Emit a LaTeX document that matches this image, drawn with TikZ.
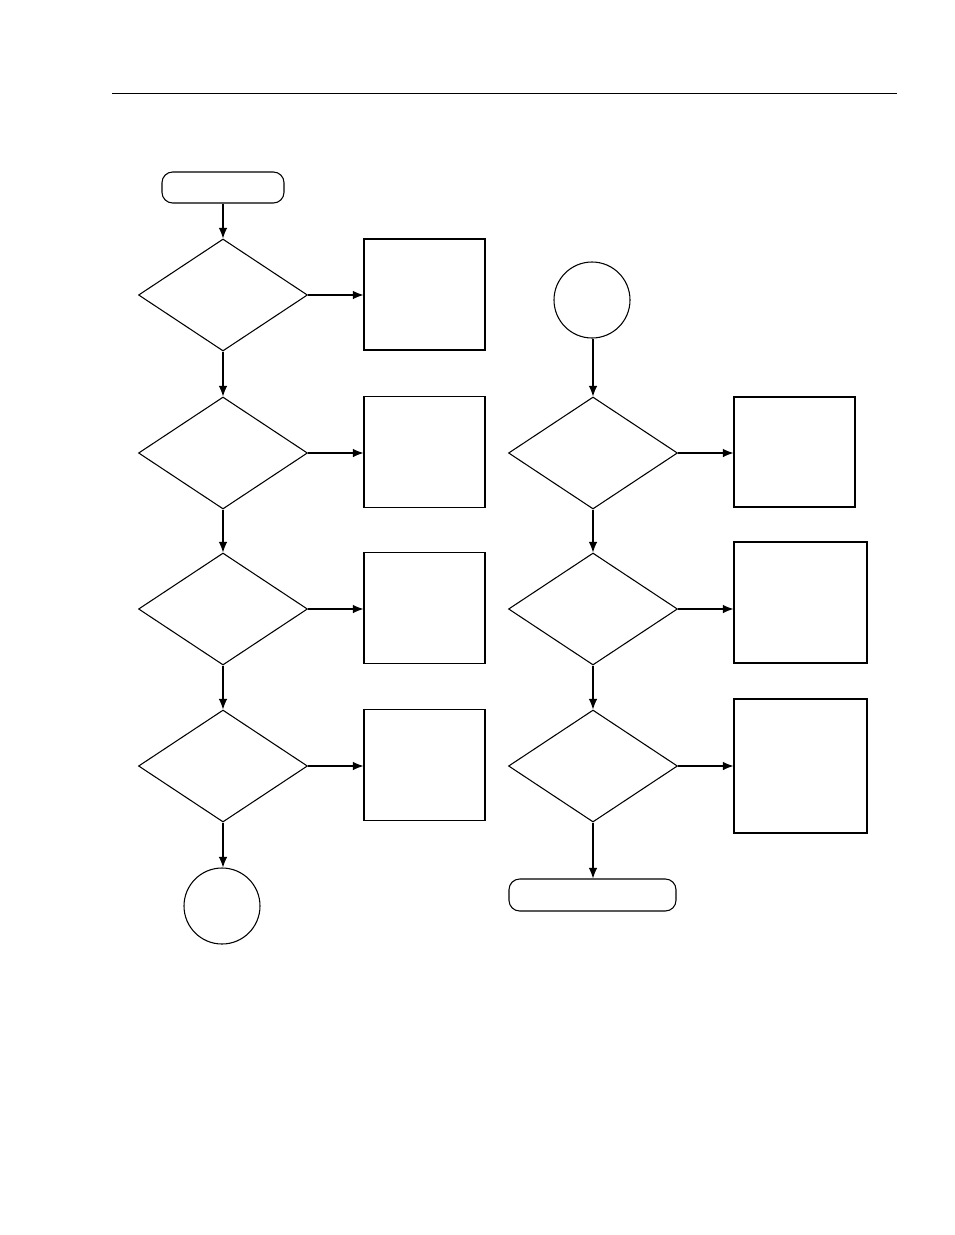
\documentclass[tikz,border=0pt]{standalone}
\usetikzlibrary{shapes.geometric,arrows.meta}
\tikzstyle{dec}=[diamond,draw,thick,inner sep=0pt,minimum width=126.75pt,minimum height=84pt]
\tikzstyle{bx}=[rectangle,draw,thick,inner sep=0pt,minimum width=90.75pt,minimum height=83.25pt]
\tikzstyle{con}=[circle,draw,thick,inner sep=0pt,minimum size=57pt]
\tikzstyle{term}=[rectangle,rounded corners=8pt,draw,thick,inner sep=0pt,minimum height=23.25pt]
\tikzset{flow/.style={-{Latex[length=8pt,width=6.5pt]},thick}}
\begin{document}
\begin{tikzpicture}[x=0.75pt,y=-0.75pt]
    \useasboundingbox (0,0) rectangle (954,1235);
    \draw[thin] (112,93) -- (897,93);
    % left column
    \node (start) [term,minimum width=91.5pt] at (223,187.5) {};
    \node (dl1) [dec] at (223,295) {};
    \node (dl2) [dec] at (223,453) {};
    \node (dl3) [dec] at (223,609) {};
    \node (dl4) [dec] at (223,766) {};
    \node (bl1) [bx] at (424.5,294.5) {};
    \node (bl2) [bx] at (424.5,452) {};
    \node (bl3) [bx] at (424.5,608) {};
    \node (bl4) [bx] at (424.5,765) {};
    \node (cl) [con] at (222,906) {};
    \draw[flow] (start) -- (dl1);
    \draw[flow] (dl1) -- (dl2);
    \draw[flow] (dl2) -- (dl3);
    \draw[flow] (dl3) -- (dl4);
    \draw[flow] (dl4.south) -- (dl4.south |- cl.north);
    \foreach \i in {1,...,4}
        \draw[flow] (dl\i.east) -- (dl\i.east -| bl\i.west);
    % right column
    \node (cr) [con] at (592,300) {};
    \node (dr1) [dec] at (593,453) {};
    \node (dr2) [dec] at (593,609) {};
    \node (dr3) [dec] at (593,766) {};
    \node (br1) [bx,minimum height=82.5pt] at (794.5,452) {};
    \node (br2) [bx,minimum width=99.75pt,minimum height=90.75pt] at (800.5,602.5) {};
    \node (br3) [bx,minimum width=99.75pt,minimum height=100.5pt] at (800.5,766) {};
    \node (stop) [term,minimum width=125.25pt,minimum height=24pt] at (592.5,895) {};
    \draw[flow] (cr.south -| dr1.north) -- (dr1);
    \draw[flow] (dr1) -- (dr2);
    \draw[flow] (dr2) -- (dr3);
    \draw[flow] (dr3.south) -- (dr3.south |- stop.north);
    \foreach \i in {1,...,3}
        \draw[flow] (dr\i.east) -- (dr\i.east -| br\i.west);
\end{tikzpicture}
\end{document}
